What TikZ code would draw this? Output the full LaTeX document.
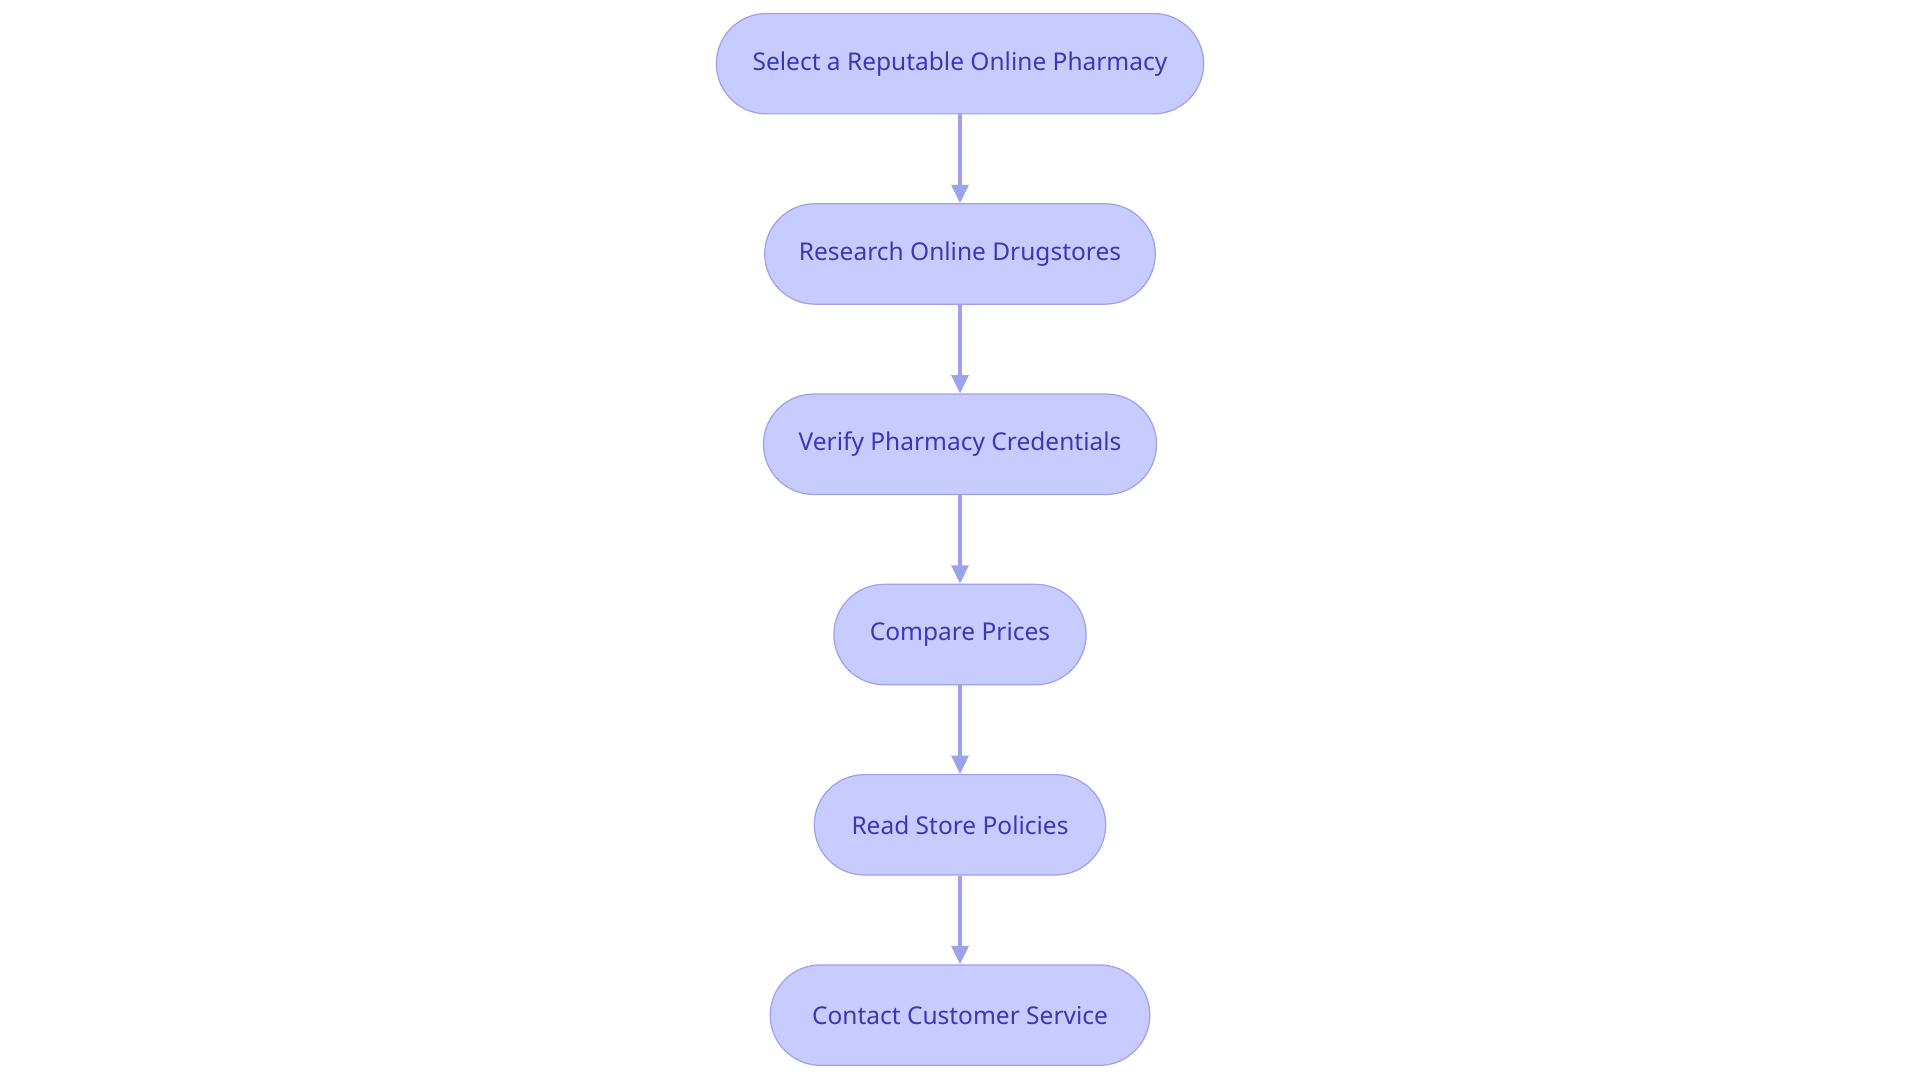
\documentclass[tikz,border=0pt]{standalone}
\usepackage{fontspec}
\setmainfont{Noto Sans}
\usetikzlibrary{positioning}
\usetikzlibrary{arrows.meta}
\definecolor{BOXFILL}{HTML}{C8CBFD}
\definecolor{BOXLINE}{HTML}{9DA2EC}
\definecolor{BOXTEXT}{HTML}{3A37B8}
\tikzset{
	stepbox/.style = {draw=BOXLINE, fill=BOXFILL, line width=1pt, rounded corners=41pt,
		minimum height=82pt, minimum width=#1, text=BOXTEXT, font=\fontsize{20}{24}\selectfont},
	link/.style = {draw=BOXLINE, line width=2.5pt, -{Triangle[length=15pt, width=14pt]}}
}
\begin{document}
\begin{tikzpicture}[node distance=72.4pt]
		% frame
		\useasboundingbox (0,0) rectangle (1568pt,-884pt);
		
		% steps
		\node[stepbox=398pt] (select) at (784pt,-52pt) {Select a Reputable Online Pharmacy};
		\node[stepbox=319pt, below=of select] (research) {Research Online Drugstores};
		\node[stepbox=321pt, below=of research] (verify) {Verify Pharmacy Credentials};
		\node[stepbox=206pt, below=of verify] (compare) {Compare Prices};
		\node[stepbox=238pt, below=of compare] (policies) {Read Store Policies};
		\node[stepbox=310pt, below=of policies] (contact) {Contact Customer Service};
		
		% links
		\foreach \a/\b in {select/research, research/verify, verify/compare, compare/policies, policies/contact}
			\draw[link] (\a) -- (\b);
	\end{tikzpicture}
\end{document}
